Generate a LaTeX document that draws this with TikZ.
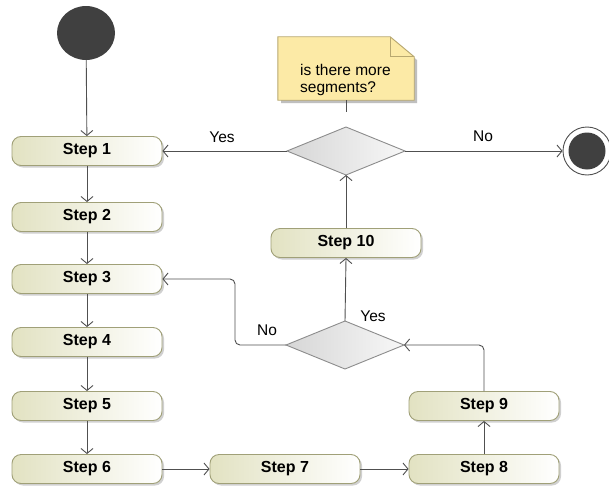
\documentclass[tikz,border=0pt]{standalone}
\usepackage{fontspec}
\setmainfont{Liberation Sans}
\usetikzlibrary{shapes.geometric,arrows.meta,shadows}
\definecolor{edgec}{RGB}{80,80,80}
\definecolor{stepb}{RGB}{160,160,120}
\definecolor{stepl}{RGB}{226,226,194}
\definecolor{decb}{RGB}{140,140,140}
\definecolor{decl}{RGB}{214,214,214}
\definecolor{notef}{RGB}{252,234,166}
\definecolor{noteb}{RGB}{184,168,112}
\definecolor{dark}{RGB}{64,64,64}
\begin{document}
\begin{tikzpicture}[x=1pt,y=-1pt,
  stepbox/.style={rectangle, rounded corners=9pt, minimum width=150pt, minimum height=29pt,
    draw=stepb, line width=0.9pt, left color=stepl, right color=white,
    font=\fontsize{16}{18}\selectfont\bfseries, inner sep=0pt,
    drop shadow={shadow xshift=2pt, shadow yshift=-2pt, fill=black!30, opacity=0.6}},
  decbox/.style={diamond, minimum width=118pt, minimum height=48pt, inner sep=0pt, outer sep=0pt,
    draw=decb, line width=0.9pt, left color=decl, right color=white!97!black},
  flow/.style={draw=edgec, line width=0.9pt, rounded corners=5pt, -{Straight Barb[length=5pt,width=12pt]}},
  lab/.style={font=\fontsize{15.5}{17.5}\selectfont, inner sep=0pt}]
\useasboundingbox[fill=white] (0,0) rectangle (609,487);

% start / end
\node[circle, fill=dark, minimum width=58pt, inner sep=0pt, yscale=0.93] (start) at (86,33) {};
\node[circle, fill=white, draw=edgec, line width=0.9pt, minimum size=48pt, inner sep=0pt] (end) at (587,151) {};
\node[circle, fill=dark, minimum size=37pt, inner sep=0pt] (endin) at (587,151) {};

% steps
\node[stepbox] (s1) at (87,151) {Step 1};
\node[stepbox] (s2) at (87,217) {Step 2};
\node[stepbox] (s3) at (87,279) {Step 3};
\node[stepbox] (s4) at (87,342) {Step 4};
\node[stepbox] (s5) at (87,406) {Step 5};
\node[stepbox] (s6) at (87,469) {Step 6};
\node[stepbox] (s7) at (285,469) {Step 7};
\node[stepbox] (s8) at (484,469) {Step 8};
\node[stepbox] (s9) at (484,406) {Step 9};
\node[stepbox] (s10) at (346,243) {Step 10};

% decisions
\node[decbox] (d1) at (346,151) {};
\node[decbox] (d2) at (345,345) {};

% note
\fill[black!25] (281,40) -- (393,40) -- (417,60) -- (417,103) -- (281,103) -- cycle;
\node[minimum width=136pt, minimum height=63pt, inner sep=0pt] (note) at (346,68.5) {};
\draw[noteb, line width=0.9pt, fill=notef] (note.north west) -- ([xshift=-24pt]note.north east) -- ([yshift=-20pt]note.north east) -- (note.south east) -- (note.south west) -- cycle;
\draw[noteb, line width=0.9pt] ([xshift=-24pt]note.north east) -- ([xshift=-24pt,yshift=-20pt]note.north east) -- ([yshift=-20pt]note.north east);
\node[lab, align=left, anchor=north west] (notetext) at (300,64) {is there more\\segments?};
\coordinate (noteend) at (346,112);
\draw[edgec, line width=0.9pt] (note.south) -- (noteend);

% connectors
\draw[flow] (start) -- (s1);
\draw[flow] (s1) -- (s2);
\draw[flow] (s2) -- (s3);
\draw[flow] (s3) -- (s4);
\draw[flow] (s4) -- (s5);
\draw[flow] (s5) -- (s6);
\draw[flow] (s6) -- (s7);
\draw[flow] (s7) -- (s8);
\draw[flow] (s8) -- (s9);
\draw[flow] (s9.north) |- (d2.east);
\draw[flow] (d2.north) -- (s10.south);
\draw[flow] (d2.west) -| (235,300) |- (s3.east);
\draw[flow] (s10.north) -- (d1.south);
\draw[flow] (d1.west) -- (s1.east);
\draw[flow] (d1.east) -- (end.west);

% labels
\node[lab] (lyes1) at (222,137) {Yes};
\node[lab] (lno1) at (483,136) {No};
\node[lab] (lyes2) at (373,316) {Yes};
\node[lab] (lno2) at (267,330) {No};
\end{tikzpicture}
\end{document}
